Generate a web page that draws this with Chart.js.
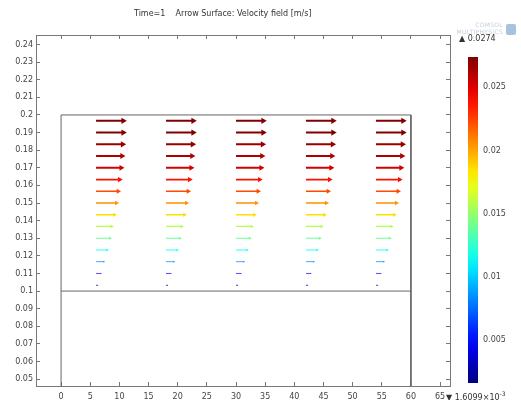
<!DOCTYPE html>
<html>
<head>
<meta charset="utf-8">
<script src="https://cdn.jsdelivr.net/npm/chart.js@4.4.1/dist/chart.umd.min.js"></script>
<style>
  body { margin: 0; background: #fff; }
  #wrap { position: relative; width: 521px; height: 400px; overflow: hidden; font-family: "DejaVu Sans", sans-serif; color: #333; }
  canvas { position: absolute; top: 0; }
  .txt { position: absolute; white-space: pre; font-size: 8px; line-height: 10px; }
  .logo { position: absolute; right: 18px; top: 21px; font-size: 6px; line-height: 7px; color: #c3cfdc; text-align: right; letter-spacing: 0.3px; }
  .cube { position: absolute; left: 506px; top: 24px; width: 10px; height: 11px; background: #8fb4d9; border-radius: 2px; opacity: 0.8; }
</style>
</head>
<body>
<div id="wrap">
  <canvas id="field" width="521" height="400" style="left:0"></canvas>
  <canvas id="legend" width="69" height="400" style="left:452px"></canvas>
  <div class="txt" style="left:134px; top:9px">Time=1    Arrow Surface: Velocity field [m/s]</div>
  <div class="logo">COMSOL<br>MULTIPHYSICS</div>
  <div class="cube"></div>
  <div class="txt" style="left:459px; top:34px">▲ 0.0274</div>
  <div class="txt" style="left:446px; top:389px">▼ 1.6099×10<sup style="font-size:6px">-3</sup></div>
</div>
<script>
// arrow grid (tails) and speed of each row
const columnX = [6, 18, 30, 42, 54];
const rowY = [0.1967, 0.19, 0.1833, 0.1767, 0.17, 0.1633, 0.1567, 0.15, 0.1433, 0.1367, 0.13, 0.1233, 0.1167, 0.11, 0.1033];
const rowSpeed = [0.0274, 0.0274, 0.0268, 0.0262, 0.0253, 0.0238, 0.0223, 0.0205, 0.0185, 0.0158, 0.0140, 0.0113, 0.0080, 0.0051, 0.0017];

// geometry outline
const domainX = [0, 60];
const domainY = [0, 0.1, 0.2];

// axes
const xRange = [-4.3, 66.7];
const yRange = [0.0461, 0.2454];
const xStep = 5;
const yStep = 0.01;

// colour legend
const colorMin = 0.0016099;
const colorMax = 0.0274;
const colorTicks = [0.005, 0.01, 0.015, 0.02, 0.025];

const arrowScale = 170; // x units per m/s
const headScale = 131;  // px per m/s

Chart.defaults.font.family = "DejaVu Sans";
Chart.defaults.font.size = 8;
Chart.defaults.color = "#444";

function jet(t) {
  t = Math.max(0, Math.min(1, t));
  const c = v => Math.round(255 * Math.max(0, Math.min(1, v)));
  const r = c(1.5 - Math.abs(4 * t - 3));
  const g = c(1.5 - Math.abs(4 * t - 2));
  const b = c(1.5 - Math.abs(4 * t - 1));
  return "rgb(" + r + "," + g + "," + b + ")";
}
const speedColor = v => jet((v - colorMin) / (colorMax - colorMin));

const outline = [
  { x: domainX[0], y: domainY[0] },
  { x: domainX[0], y: domainY[2] },
  { x: domainX[1], y: domainY[2] },
  { x: domainX[1], y: domainY[0] },
];
const midLine = [
  { x: domainX[0], y: domainY[1] },
  { x: domainX[1], y: domainY[1] },
];

const datasets = [
  { data: outline, showLine: true, borderColor: "#666", borderWidth: 1, pointRadius: 0 },
  { data: midLine, showLine: true, borderColor: "#666", borderWidth: 1, pointRadius: 0 },
];

rowY.forEach((y, i) => {
  const v = rowSpeed[i];
  const pts = [];
  columnX.forEach(x => {
    pts.push({ x: x, y: y });
    pts.push({ x: x + v * arrowScale, y: y });
    pts.push({ x: x, y: null });
  });
  const col = speedColor(v);
  datasets.push({
    data: pts,
    showLine: true,
    borderColor: col,
    borderWidth: Math.max(0.7, v * 75),
    pointStyle: "triangle",
    pointRotation: 90,
    pointBackgroundColor: col,
    pointBorderWidth: 0,
    pointRadius: c => (c.dataIndex % 3 === 1 ? Math.max(0.6, v * headScale) : 0),
  });
});

const frame = "#777";
const fmt = v => String(+Number(v).toFixed(3));

new Chart(document.getElementById("field"), {
  type: "scatter",
  data: { datasets: datasets },
  options: {
    responsive: false,
    animation: false,
    layout: { padding: { top: 35, right: 71, left: 0, bottom: 0 } },
    plugins: { legend: { display: false }, tooltip: { enabled: false } },
    scales: {
      x: {
        min: xRange[0], max: xRange[1],
        border: { color: frame },
        grid: { drawOnChartArea: false, tickLength: -4, color: frame },
        ticks: { stepSize: xStep, includeBounds: false, padding: 10, callback: fmt, maxRotation: 0 },
        afterFit: s => { s.height = 14; },
      },
      x2: {
        position: "top", min: xRange[0], max: xRange[1],
        border: { color: frame },
        grid: { drawOnChartArea: false, tickLength: -4, color: frame },
        ticks: { display: false, stepSize: xStep, includeBounds: false },
        afterFit: s => { s.height = 0; },
      },
      y: {
        min: yRange[0], max: yRange[1],
        border: { color: frame },
        grid: { drawOnChartArea: false, tickLength: -4, color: frame },
        ticks: { stepSize: yStep, includeBounds: false, padding: 7, callback: fmt },
        afterFit: s => { s.width = 36; },
      },
      y2: {
        position: "right", min: yRange[0], max: yRange[1],
        border: { color: frame },
        grid: { drawOnChartArea: false, tickLength: -4, color: frame },
        ticks: { display: false, stepSize: yStep, includeBounds: false },
        afterFit: s => { s.width = 0; },
      },
    },
  },
});

new Chart(document.getElementById("legend"), {
  type: "bar",
  data: {
    labels: ["|u|"],
    datasets: [{
      data: [[colorMin, colorMax]],
      barPercentage: 1,
      categoryPercentage: 1,
      borderWidth: 0,
      backgroundColor: c => {
        const a = c.chart.chartArea;
        if (!a) return "#888";
        const g = c.chart.ctx.createLinearGradient(0, a.bottom, 0, a.top);
        for (let k = 0; k <= 20; k++) g.addColorStop(k / 20, jet(k / 20));
        return g;
      },
    }],
  },
  options: {
    responsive: false,
    animation: false,
    layout: { padding: { top: 57, bottom: 17, left: 16, right: 0 } },
    plugins: { legend: { display: false }, tooltip: { enabled: false } },
    scales: {
      x: { display: false },
      y: {
        position: "right", min: colorMin, max: colorMax,
        border: { display: false },
        grid: { display: false, drawTicks: false },
        ticks: { padding: 5, callback: fmt },
        afterBuildTicks: s => { s.ticks = colorTicks.map(v => ({ value: v })); },
        afterFit: s => { s.width = 43; },
      },
    },
  },
});
</script>
</body>
</html>
